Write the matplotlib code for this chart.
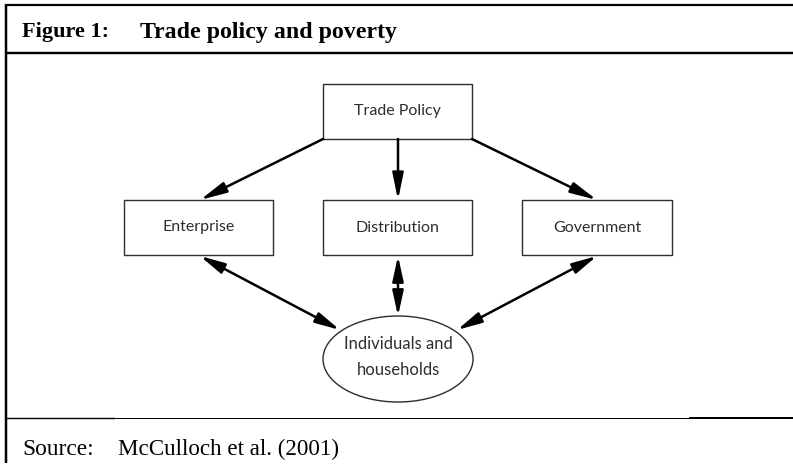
import matplotlib
matplotlib.use("Agg")
import matplotlib.pyplot as plt
from matplotlib.patches import FancyArrowPatch, Rectangle, Ellipse, ArrowStyle

# ---- content ----
title_label = "Figure 1:"
title_text = "Trade policy and poverty"
source_label = "Source:"
source_text = "McCulloch et al. (2001)"

box_nodes = ["Trade Policy", "Enterprise", "Distribution", "Government"]
ellipse_node = "Individuals and\nhouseholds"

one_way_edges = [("Trade Policy", "Enterprise"),
                 ("Trade Policy", "Distribution"),
                 ("Trade Policy", "Government")]
two_way_edges = [("Enterprise", "Individuals"),
                 ("Distribution", "Individuals"),
                 ("Government", "Individuals")]

# ---- layout (pixel coordinates, y downwards) ----
W, H = 793, 466
box_pos = {  # x0, y0, x1, y1
    "Trade Policy": (323, 84, 472, 139),
    "Enterprise": (124, 200, 273, 255),
    "Distribution": (323, 200, 472, 255),
    "Government": (522, 200, 672, 255),
}
ell_center = (398, 359)
ell_size = (150, 86)

edge_points = {
    ("Trade Policy", "Enterprise"): ((323, 139), (200, 200)),
    ("Trade Policy", "Distribution"): ((398, 139), (398, 200)),
    ("Trade Policy", "Government"): ((472, 139), (597, 200)),
    ("Enterprise", "Individuals"): ((200, 256), (340, 330)),
    ("Distribution", "Individuals"): ((398, 256), (398, 316)),
    ("Government", "Individuals"): ((597, 256), (457, 330)),
}

fig = plt.figure(figsize=(W / 100, H / 100), dpi=100)
ax = fig.add_axes([0, 0, 1, 1])
ax.set_xlim(0, W)
ax.set_ylim(H, 0)
ax.axis("off")

px = 72 / 100  # points per pixel

# frame lines
ax.plot([5, W], [5, 5], color="black", lw=2.2 * px, solid_capstyle="butt")
ax.plot([6, 6], [4, 463], color="black", lw=2.5 * px, solid_capstyle="butt")
ax.plot([5, W], [53, 53], color="black", lw=2.4 * px, solid_capstyle="butt")
ax.plot([5, 115], [418, 418], color="black", lw=1.4 * px, solid_capstyle="butt")
ax.plot([115, 689], [418, 418], color="black", lw=1.0 * px, solid_capstyle="butt")
ax.plot([689, W], [418, 418], color="black", lw=2.0 * px, solid_capstyle="butt")

serif = ["Liberation Serif", "DejaVu Serif"]
ax.text(22, 30, title_label, fontsize=16, fontweight="bold", family=serif,
        ha="left", va="center_baseline")
ax.text(140, 30, title_text, fontsize=17.2, fontweight="bold", family=serif,
        ha="left", va="center_baseline")
ax.text(22, 447, source_label, fontsize=16.8, family=serif,
        ha="left", va="center_baseline")
ax.text(118, 447, source_text, fontsize=16.6, family=serif,
        ha="left", va="center_baseline")

sans = ["Lato", "DejaVu Sans"]
box_color = "#2e2e2e"
for name in box_nodes:
    x0, y0, x1, y1 = box_pos[name]
    ax.add_patch(Rectangle((x0, y0), x1 - x0, y1 - y0, facecolor="white",
                           edgecolor=box_color, lw=1.4 * px, zorder=2))
    ax.text((x0 + x1) / 2, (y0 + y1) / 2, name, fontsize=11.5, family=sans,
            color=box_color, ha="center", va="center", zorder=3)

ax.add_patch(Ellipse(ell_center, ell_size[0], ell_size[1], facecolor="white",
                     edgecolor=box_color, lw=1.4 * px, zorder=2))
ax.text(ell_center[0], ell_center[1] - 2, ellipse_node, fontsize=12, family=sans,
        color=box_color, ha="center", va="center", linespacing=1.7, zorder=3)

one = ArrowStyle("-|>", head_length=1.6, head_width=0.33)
two = ArrowStyle("<|-|>", head_length=1.5, head_width=0.33)
for e in one_way_edges:
    a, b = edge_points[e]
    ax.add_patch(FancyArrowPatch(a, b, arrowstyle=one, mutation_scale=10,
                                 shrinkA=0, shrinkB=0, color="black",
                                 lw=2.5 * px, zorder=4))
for e in two_way_edges:
    a, b = edge_points[e]
    ax.add_patch(FancyArrowPatch(a, b, arrowstyle=two, mutation_scale=10,
                                 shrinkA=0, shrinkB=0, color="black",
                                 lw=2.5 * px, zorder=4))

fig.savefig("out.png", dpi=100)
